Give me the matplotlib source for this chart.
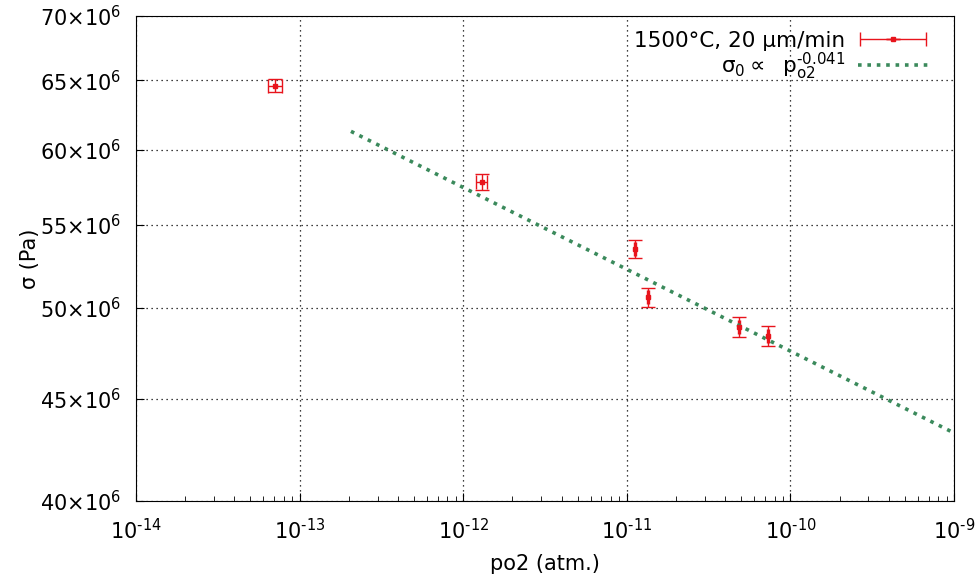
import matplotlib.pyplot as plt
import numpy as np
from matplotlib.ticker import FixedLocator, LogLocator, NullLocator
from matplotlib.legend_handler import HandlerErrorbar

plt.rcParams['font.family'] = ['DejaVu Sans']
plt.rcParams['mathtext.default'] = 'regular'

HY = '\u2010'  # plain hyphen, gnuplot style exponents

# measured points
po2 = [7.1e-14, 1.30e-12, 1.12e-11, 1.35e-11, 4.86e-11, 7.3e-11]
sigma = [64.6e6, 57.8e6, 53.5e6, 50.6e6, 48.9e6, 48.4e6]
po2_err = [0.7e-14, 0.10e-12, 0.02e-11, 0.02e-11, 0.08e-11, 0.12e-11]
sigma_err = [0.5e6, 0.55e6, 0.55e6, 0.55e6, 0.55e6, 0.55e6]

# power-law fit
fit_A = 1.85e7
fit_n = -0.041
fit_range = (2.06e-13, 1e-9)

yticks = [40e6, 45e6, 50e6, 55e6, 60e6, 65e6, 70e6]
ytick_labels = [r'$%d{\times}10^{6}$' % (v / 1e6) for v in yticks]
xticks = [1e-14, 1e-13, 1e-12, 1e-11, 1e-10, 1e-9]
xtick_labels = ['$10^{%s%d}$' % (HY, -int(round(np.log10(v)))) for v in xticks]

fig, ax = plt.subplots(figsize=(9.78, 5.79), dpi=100)
fig.subplots_adjust(left=136/978, right=954/978, top=1-16/579, bottom=1-501/579)

ax.set_xscale('log')
ax.set_yscale('log')

eb = ax.errorbar(po2, sigma, xerr=po2_err, yerr=sigma_err, fmt='s', ms=3,
                 color='#e8141c', ecolor='#e8141c', elinewidth=1, capsize=5,
                 label='1500°C, 20 µm/min')

xf = np.logspace(np.log10(fit_range[0]), np.log10(fit_range[1]), 200)
fit_line, = ax.plot(xf, fit_A * xf ** fit_n, linestyle=(0, (1, 1.6)), color='#3b8a5c', lw=2.6,
                    label=r'$\sigma_0 \propto\ \ p_{o2}^{%s0.041}$' % HY)

ax.set_xlim(1e-14, 1e-9)
ax.set_ylim(40e6, 70e6)

ax.yaxis.set_major_locator(FixedLocator(yticks))
ax.set_yticklabels(ytick_labels)
ax.yaxis.set_minor_locator(NullLocator())
ax.xaxis.set_major_locator(FixedLocator(xticks))
ax.set_xticklabels(xtick_labels)
ax.xaxis.set_minor_locator(LogLocator(base=10, subs=np.arange(2, 10), numticks=10))

ax.tick_params(which='both', direction='in', labelsize=15, top=False, right=False)
ax.tick_params(which='major', length=6)
ax.tick_params(which='minor', length=3.5)
ax.tick_params(axis='x', pad=12)
ax.tick_params(axis='y', pad=11)

ax.grid(True, which='major', color='black', linestyle=(0, (1, 3)), linewidth=0.9)

ax.set_xlabel('po2 (atm.)', fontsize=15, labelpad=8)
ax.set_ylabel('σ (Pa)', fontsize=15, labelpad=0)

ax.legend([eb, fit_line], [eb.get_label(), fit_line.get_label()],
          handler_map={type(eb): HandlerErrorbar(xerr_size=1.55, yerr_size=0.0)},
          loc='upper right', bbox_to_anchor=(0.992, 1.01), frameon=False, fontsize=15.5,
          markerfirst=False, handlelength=3.25, labelspacing=0.0, handletextpad=0.6)

plt.savefig('out.png')
